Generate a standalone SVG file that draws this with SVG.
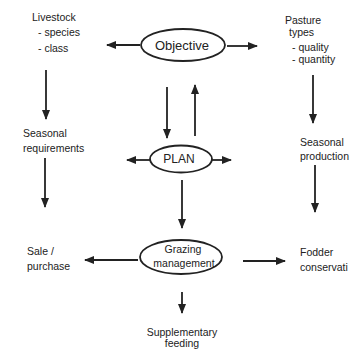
<svg xmlns="http://www.w3.org/2000/svg" width="353" height="351" viewBox="0 0 353 351">
<style>
.t{font-family:"Liberation Sans",Arial,sans-serif;font-size:10.5px;fill:#222}
.n{font-family:"Liberation Sans",Arial,sans-serif;fill:#222}
.e{fill:none;stroke:#222;stroke-width:1.8}
.c{stroke:#222;stroke-width:1.8;fill:none}
</style>
<defs>
<marker id="ah" markerUnits="userSpaceOnUse" markerWidth="10" markerHeight="10" viewBox="0 0 10 10" refX="9" refY="5" orient="auto">
<path d="M0,1 L10,5 L0,9 Z" fill="#222"/>
</marker>
</defs>
<rect width="353" height="351" fill="#fff"/>
<g id="connectors">
<line class="c" x1="140" y1="45" x2="107" y2="45" marker-end="url(#ah)"/>
<line class="c" x1="227" y1="46" x2="257" y2="46" marker-end="url(#ah)"/>
<line class="c" x1="46" y1="70" x2="46" y2="119" marker-end="url(#ah)"/>
<line class="c" x1="313" y1="75" x2="313" y2="123" marker-end="url(#ah)"/>
<line class="c" x1="167" y1="87" x2="167" y2="138" marker-end="url(#ah)"/>
<line class="c" x1="195" y1="136" x2="195" y2="85" marker-end="url(#ah)"/>
<line class="c" x1="150" y1="160" x2="127" y2="160" marker-end="url(#ah)"/>
<line class="c" x1="212" y1="160" x2="231" y2="160" marker-end="url(#ah)"/>
<line class="c" x1="45" y1="158" x2="45" y2="207" marker-end="url(#ah)"/>
<line class="c" x1="315" y1="165" x2="315" y2="212" marker-end="url(#ah)"/>
<line class="c" x1="182" y1="180" x2="182" y2="228" marker-end="url(#ah)"/>
<line class="c" x1="138" y1="260" x2="85" y2="260" marker-end="url(#ah)"/>
<line class="c" x1="243" y1="261" x2="285" y2="261" marker-end="url(#ah)"/>
<line class="c" x1="182" y1="292" x2="182" y2="313" marker-end="url(#ah)"/>
</g>
<g id="objective">
<ellipse class="e" cx="183" cy="45" rx="42" ry="16"/>
<text class="n" x="182" y="50" font-size="13" text-anchor="middle">Objective</text>
</g>
<g id="plan">
<ellipse class="e" cx="181" cy="159" rx="31" ry="13.5"/>
<text class="n" x="179" y="163" font-size="12" text-anchor="middle">PLAN</text>
</g>
<g id="grazing">
<ellipse class="e" cx="181" cy="257" rx="41" ry="17"/>
<text class="n" x="183" y="253" font-size="10.5" text-anchor="middle">Grazing</text>
<text class="n" x="184" y="267" font-size="10.5" text-anchor="middle">management</text>
</g>
<g id="livestock">
<text class="t" x="32" y="21">Livestock</text>
<text class="t" x="38" y="36">- species</text>
<text class="t" x="38" y="52">- class</text>
</g>
<g id="pasture">
<text class="t" x="285" y="24">Pasture</text>
<text class="t" x="289" y="36">types</text>
<text class="t" x="292" y="51">- quality</text>
<text class="t" x="292" y="63">- quantity</text>
</g>
<g id="seasonal-req">
<text class="t" x="23" y="137">Seasonal</text>
<text class="t" x="23" y="152">requirements</text>
</g>
<g id="seasonal-prod">
<text class="t" x="300" y="146">Seasonal</text>
<text class="t" x="300" y="160">production</text>
</g>
<g id="sale">
<text class="t" x="27" y="255">Sale /</text>
<text class="t" x="27" y="270">purchase</text>
</g>
<g id="fodder">
<text class="t" x="300" y="256">Fodder</text>
<text class="t" x="300" y="271">conservati</text>
</g>
<g id="supplementary">
<text class="t" x="182" y="336" text-anchor="middle">Supplementary</text>
<text class="t" x="182" y="347" text-anchor="middle">feeding</text>
</g>
</svg>
